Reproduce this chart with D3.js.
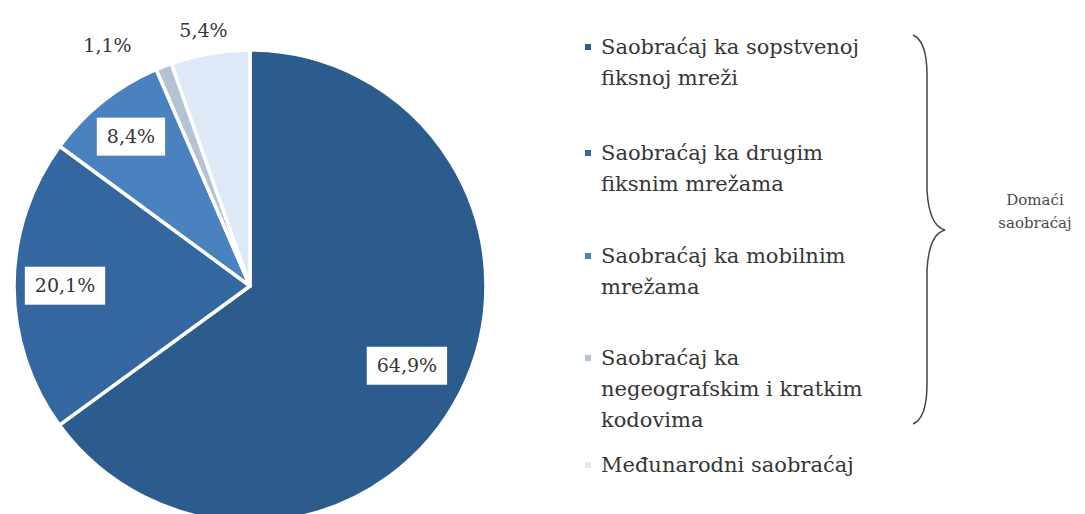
<!DOCTYPE html>
<html>
<head>
<meta charset="utf-8">
<script src="https://cdn.jsdelivr.net/npm/d3@7"></script>
<style>
  html, body { margin: 0; padding: 0; background: #fff; }
  svg { display: block; }
</style>
</head>
<body>
<svg id="chart" width="1085" height="514"></svg>
<script>
// Traffic structure by destination (share of minutes, %)
const categories = [
  "Saobraćaj ka sopstvenoj fiksnoj mreži",
  "Saobraćaj ka drugim fiksnim mrežama",
  "Saobraćaj ka mobilnim mrežama",
  "Saobraćaj ka negeografskim i kratkim kodovima",
  "Međunarodni saobraćaj"
];
const values = [64.9, 20.1, 8.4, 1.1, 5.4];
const valueLabels = ["64,9%", "20,1%", "8,4%", "1,1%", "5,4%"];
const colors = ["#2c5b8d", "#3467a0", "#4a82bf", "#b3c3d3", "#dde9f6"];

// Legend text, broken into the lines it is set in
const legendLines = [
  ["Saobraćaj ka sopstvenoj", "fiksnoj mreži"],
  ["Saobraćaj ka drugim", "fiksnim mrežama"],
  ["Saobraćaj ka mobilnim", "mrežama"],
  ["Saobraćaj ka", "negeografskim i kratkim", "kodovima"],
  ["Međunarodni saobraćaj"]
];
const groupLabel = ["Domaći", "saobraćaj"];

const svg = d3.select("#chart");
const font = "'DejaVu Serif', 'Liberation Serif', serif";
const textColor = "#363636";

// ---- Pie ----
const cx = 250, cy = 286, radius = 236;
const g = svg.append("g").attr("transform", `translate(${cx},${cy})`);

const pie = d3.pie().sort(null).value(d => d);
const arcs = pie(values);
const arc = d3.arc().innerRadius(0).outerRadius(radius);

g.selectAll("path.slice")
  .data(arcs)
  .join("path")
  .attr("class", "slice")
  .attr("d", arc)
  .attr("fill", (d, i) => colors[i])
  .attr("stroke", "#fff")
  .attr("stroke-width", 3.5)
  .attr("stroke-linejoin", "round");

// Value labels: radial distance and small angular nudge for each slice
const labelRadius = [176, 185, 191, 280, 260];
const labelNudge = [0, 0, 0, -0.16, -0.01];
const boxed = [true, true, true, false, false];
const valueFontSize = 19;

arcs.forEach((d, i) => {
  const a = (d.startAngle + d.endAngle) / 2 + labelNudge[i];
  const x = Math.sin(a) * labelRadius[i];
  const y = -Math.cos(a) * labelRadius[i];
  const lg = g.append("g").attr("transform", `translate(${x},${y})`);
  const t = lg.append("text")
    .attr("text-anchor", "middle")
    .attr("dy", "0.35em")
    .attr("font-family", font)
    .attr("font-size", valueFontSize)
    .attr("fill", textColor)
    .text(valueLabels[i]);
  if (boxed[i]) {
    const bb = t.node().getBBox();
    const padX = 10, h = 38;
    lg.insert("rect", "text")
      .attr("x", bb.x - padX)
      .attr("y", -h / 2)
      .attr("width", bb.width + padX * 2)
      .attr("height", h)
      .attr("fill", "#fff");
  }
});

// ---- Legend ----
const legendX = 601;
const lineGap = 31;
const itemTops = [47, 153, 256, 358, 465];
const legendFontSize = 21;

const legend = svg.append("g");
legendLines.forEach((lines, i) => {
  const item = legend.append("g").attr("transform", `translate(${legendX},${itemTops[i]})`);
  item.append("rect")
    .attr("x", -16)
    .attr("y", -3)
    .attr("width", 6)
    .attr("height", 6)
    .attr("fill", colors[i]);
  lines.forEach((ln, j) => {
    item.append("text")
      .attr("x", 0)
      .attr("y", j * lineGap)
      .attr("dy", "0.35em")
      .attr("font-family", font)
      .attr("font-size", legendFontSize)
      .attr("fill", textColor)
      .text(ln);
  });
});

// ---- Brace grouping the domestic categories ----
const bx = 913, bTop = 35, bBot = 424, bTip = 945, bMid = 230, bStem = 927;
const brace = d3.path();
brace.moveTo(bx, bTop);
brace.quadraticCurveTo(bStem, bTop + 6, bStem, bTop + 40);
brace.lineTo(bStem, bMid - 40);
brace.quadraticCurveTo(bStem + 2, bMid - 4, bTip, bMid);
brace.quadraticCurveTo(bStem + 2, bMid + 4, bStem, bMid + 40);
brace.lineTo(bStem, bBot - 40);
brace.quadraticCurveTo(bStem, bBot - 6, bx, bBot);
svg.append("path")
  .attr("d", brace.toString())
  .attr("fill", "none")
  .attr("stroke", "#444")
  .attr("stroke-width", 1.5);

groupLabel.forEach((t, i) => {
  svg.append("text")
    .attr("x", 1035)
    .attr("y", 200 + i * 23)
    .attr("dy", "0.35em")
    .attr("text-anchor", "middle")
    .attr("font-family", font)
    .attr("font-size", 15)
    .attr("fill", "#4a4a4a")
    .text(t);
});
</script>
</body>
</html>
